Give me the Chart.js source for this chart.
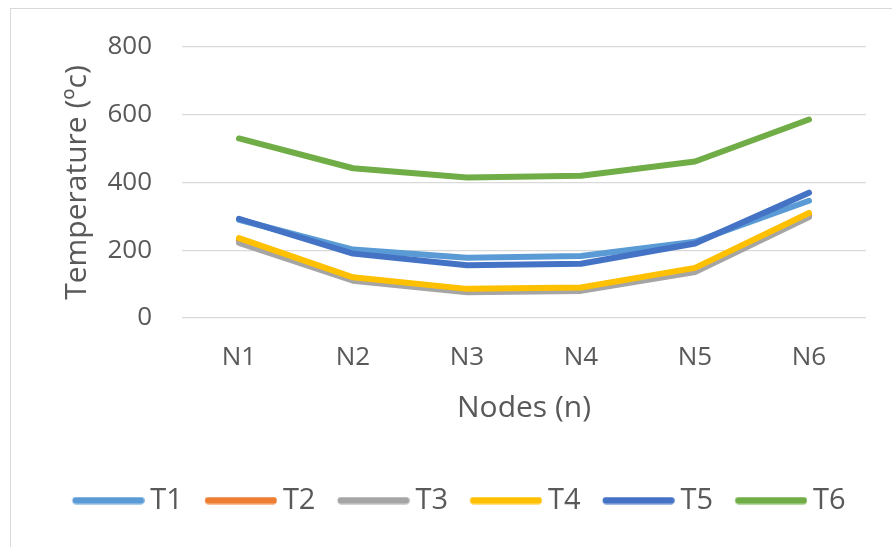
<!DOCTYPE html>
<html>
<head>
<meta charset="utf-8">
<script src="https://cdn.jsdelivr.net/npm/chart.js@4.4.0/dist/chart.umd.min.js"></script>
<style>
html,body{margin:0;padding:0;background:#fff;}
#wrap{position:relative;width:892px;height:547px;overflow:hidden;}
#frame{position:absolute;left:10px;top:8px;width:1000px;height:1000px;border:1px solid #d9d9d9;box-sizing:border-box;}
#c{position:absolute;left:0;top:0;}
</style>
</head>
<body>
<div id="wrap"><div id="frame"></div><canvas id="c" width="892" height="547"></canvas></div>
<script>
const categories = ["N1","N2","N3","N4","N5","N6"];
const seriesNames = ["T1","T2","T3","T4","T5","T6"];
const T1 = [290, 202, 178, 183, 225, 346];
const T2 = [230, 116, 82, 86, 143, 305];
const T3 = [222, 110, 76, 80, 136, 298];
const T4 = [236, 120, 86, 90, 148, 310];
const T5 = [293, 190, 156, 160, 220, 370];
const T6 = [530, 442, 415, 420, 462, 586];
const yTicks = [0, 200, 400, 600, 800];
const colors = ["#5B9BD5","#ED7D31","#A5A5A5","#FFC000","#4472C4","#70AD47"];
const values = [T1,T2,T3,T4,T5,T6];

const FONT = "'Open Sans', 'Liberation Sans', sans-serif";
const TXT = "#595959";
const LEG_FONT = 29;
const LEG_OFF = 12;                 // blank space before the swatch line inside each item
const LEG_LINE = 72;                // drawn legend line length
const LEG_BOX = LEG_OFF + 63.5;     // logical box width used by legend layout

function legendSwatch(color) {
  const half = Math.max(LEG_BOX / 2 - LEG_OFF, LEG_OFF + LEG_LINE - LEG_BOX / 2);
  const w = Math.ceil(half * 2), h = 8;
  const cv = document.createElement('canvas');
  cv.width = w; cv.height = h;
  const g = cv.getContext('2d');
  const x0 = w / 2 - LEG_BOX / 2 + LEG_OFF;
  g.strokeStyle = color; g.lineWidth = 7; g.lineCap = 'round';
  g.beginPath(); g.moveTo(x0 + 3.5, h / 2); g.lineTo(x0 + LEG_LINE - 3.5, h / 2); g.stroke();
  return cv;
}

new Chart(document.getElementById('c'), {
  type: 'line',
  data: {
    labels: categories,
    datasets: seriesNames.map((n,i)=>({
      label: n,
      data: values[i],
      borderColor: colors[i],
      backgroundColor: colors[i],
      borderWidth: 6,
      pointRadius: 0,
      pointHoverRadius: 0,
      pointStyle: legendSwatch(colors[i]),
      tension: 0,
      borderCapStyle: 'round',
      borderJoinStyle: 'round',
      order: 6 - i
    }))
  },
  options: {
    responsive: false,
    animation: false,
    layout: { padding: { left: 40, right: 26, top: 47, bottom: 22 } },
    plugins: {
      tooltip: { enabled: false },
      legend: {
        position: 'bottom',
        labels: {
          usePointStyle: true,
          pointStyleWidth: LEG_BOX,
          boxHeight: 8,
          padding: 10,
          color: TXT,
          font: { family: FONT, size: LEG_FONT },
          sort: (a,b) => a.datasetIndex - b.datasetIndex
        }
      }
    },
    scales: {
      x: {
        type: 'category',
        offset: true,
        grid: { display: false, drawTicks: false },
        border: { display: false },
        ticks: { color: TXT, font: { family: FONT, size: 26 }, padding: 24, maxRotation: 0 },
        title: { display: true, text: 'Nodes (n)', color: TXT, font: { family: FONT, size: 30 }, padding: { top: 0, bottom: 50 } },
        afterFit: s => { s.height = 158; }
      },
      y: {
        min: 0, max: 800,
        afterBuildTicks: s => { s.ticks = yTicks.map(v=>({value:v})); },
        grid: { color: '#d9d9d9', lineWidth: 1.3, drawTicks: false },
        border: { display: false },
        ticks: { color: TXT, font: { family: FONT, size: 26 }, padding: 30 },
        title: { display: true, text: 'Temperature (ºc)', color: TXT, font: { family: FONT, size: 30 }, padding: { top: 19, bottom: 0 } },
        afterFit: s => { s.width = 142; }
      }
    }
  }
});
</script>
</body>
</html>
